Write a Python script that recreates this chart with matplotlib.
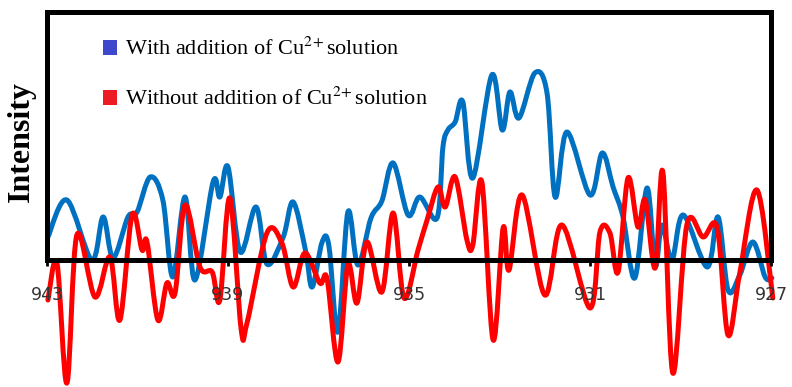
import numpy as np
import matplotlib.pyplot as plt
from matplotlib.path import Path
from matplotlib.patches import PathPatch, Patch

plt.rcParams['mathtext.fontset'] = 'stix'

# binding energy (eV) and intensity (a.u.)
with_cu_be = [942.98, 942.56, 942.01, 941.76, 941.54, 941.21, 941.01, 940.72, 940.44, 940.22,
              939.95, 939.73, 939.33, 939.18, 939.00, 938.73, 938.38, 938.14, 937.78, 937.56,
              937.28, 937.14, 936.92, 936.77, 936.57, 936.35, 936.13, 935.84, 935.60, 935.35,
              935.02, 934.76, 934.38, 934.25, 934.14, 933.98, 933.81, 933.59, 933.17, 932.94,
              932.77, 932.57, 932.22, 931.95, 931.77, 931.51, 931.00, 930.73, 930.49, 930.27,
              930.01, 929.74, 929.56, 929.41, 929.19, 928.94, 928.41, 928.17, 927.95, 927.69,
              927.40, 927.13, 926.98]
with_cu_int = [23, 60, 0, 43, 2, 43, 48, 83, 60, -17,
               63, -20, 78, 63, 93, 8, 53, -4, 23, 58,
               8, -27, 18, 14, -72, 48, -5, 42, 59, 97,
               45, 63, 42, 113, 130, 138, 158, 82, 185, 130,
               168, 142, 187, 167, 63, 128, 65, 107, 73, 43,
               -18, 72, -6, 35, 0, 45, -7, 43, -30, -15,
               18, -17, -18]

without_cu_be = [942.98, 942.78, 942.56, 942.34, 941.94, 941.61, 941.39, 941.12, 940.90, 940.79,
                 940.55, 940.35, 940.17, 939.95, 939.62, 939.35, 939.18, 938.96, 938.71, 938.58,
                 938.14, 937.81, 937.56, 937.30, 936.97, 936.81, 936.57, 936.35, 936.15, 935.93,
                 935.60, 935.35, 935.11, 934.80, 934.60, 934.36, 934.20, 933.98, 933.72, 933.59,
                 933.39, 933.14, 932.92, 932.79, 932.50, 932.00, 931.62, 931.00, 930.78, 930.56,
                 930.38, 930.16, 929.94, 929.78, 929.56, 929.39, 929.17, 928.86, 928.50, 928.19,
                 927.95, 927.69, 927.31, 926.96]
without_cu_int = [-40, -3, -123, 25, -37, 3, -60, 45, 10, 18,
                  -60, -23, -33, 55, -7, -12, -40, 62, -69, -63,
                  27, 17, -27, 7, -23, -19, -102, -5, -43, 18,
                  -32, 47, -38, 10, 40, 73, 53, 83, 20, 15,
                  78, -80, 32, -10, 65, -35, 35, -48, 28, 27,
                  -12, 82, 33, 60, -8, 88, -113, 35, 23, 32,
                  -75, -13, 70, -38]

tick_be = [943, 939, 935, 931, 927]
labels = ['With addition of Cu$^{2\\!+}$solution', 'Without addition of Cu$^{2\\!+}$solution']


def smooth_path(x, y):
    # Catmull-Rom through the points, written as cubic Bezier segments
    pts = np.column_stack([x, y]).astype(float)
    ext = np.vstack([pts[0], pts, pts[-1]])
    verts = [pts[0]]
    codes = [Path.MOVETO]
    for i in range(len(pts) - 1):
        p0, p1, p2, p3 = ext[i], ext[i + 1], ext[i + 2], ext[i + 3]
        verts += [p1 + (p2 - p0) / 6, p2 - (p3 - p1) / 6, p2]
        codes += [Path.CURVE4] * 3
    return Path(verts, codes)


fig = plt.figure(figsize=(7.92, 3.87), dpi=100)
ax = fig.add_axes([47 / 792, 0, 724 / 792, 375 / 387])
ax.set_xlim(943, 927)
ax.set_ylim(-127, 248)

for x, y, c in [(with_cu_be, with_cu_int, '#0070c0'),
                (without_cu_be, without_cu_int, '#ff0000')]:
    ax.add_patch(PathPatch(smooth_path(x, y), facecolor='none', edgecolor=c,
                           lw=3.6, capstyle='round', joinstyle='round', clip_on=False))

for side in ['left', 'right', 'top', 'bottom']:
    ax.spines[side].set_linewidth(3.6)
    ax.spines[side].set_capstyle('projecting')
ax.spines['bottom'].set_position(('data', 0))
ax.spines['left'].set_bounds(0, 248)
ax.spines['right'].set_bounds(0, 248)

ax.set_yticks([])
ax.set_xticks(tick_be)
ax.set_xticklabels([str(t) for t in tick_be])
ax.tick_params(axis='x', length=4, width=2, pad=15, labelsize=12.5, labelcolor='#333333')

fig.text(21 / 792, 1 - 141 / 387, 'Intensity', rotation=90, ha='center', va='center',
         fontfamily='Liberation Serif', fontweight='bold', fontsize=23)

handles = [Patch(facecolor='#3f48cc'), Patch(facecolor='#ed1c24')]
fig.legend(handles, labels, loc='upper left', bbox_to_anchor=(103 / 792, 1 - 38 / 387),
           bbox_transform=fig.transFigure, frameon=False, borderpad=0, borderaxespad=0,
           handlelength=0.65, handleheight=0.65, handletextpad=0.35, labelspacing=1.25,
           prop={'family': 'Liberation Serif', 'size': 16})

fig.savefig('out.png', dpi=100)
